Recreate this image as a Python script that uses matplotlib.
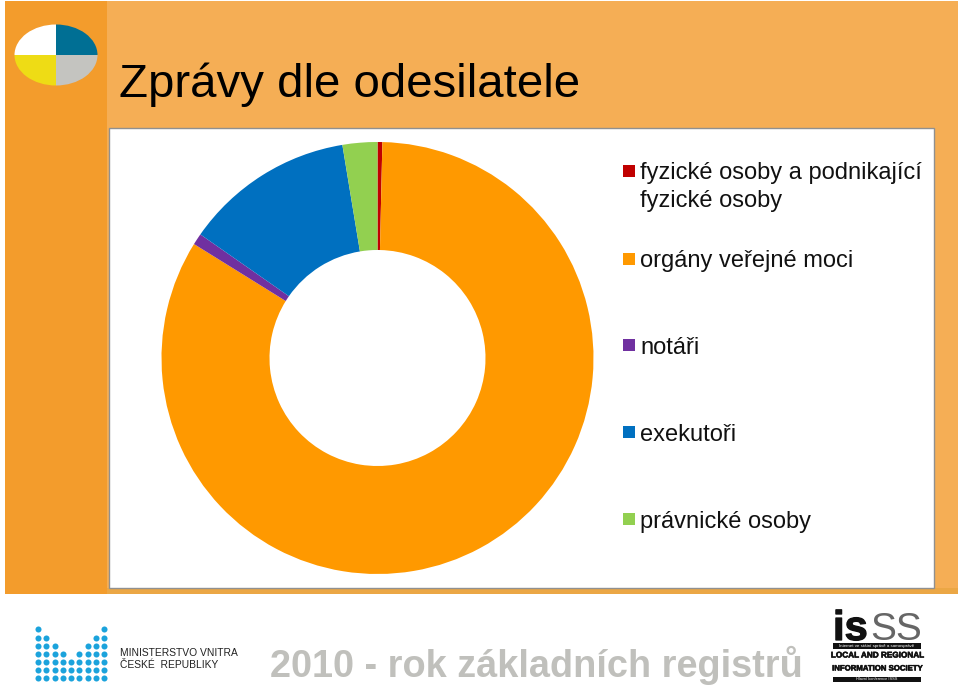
import matplotlib
matplotlib.use("Agg")
import matplotlib.pyplot as plt
import matplotlib.patheffects as pe
from matplotlib.patches import Rectangle, Ellipse

plt.rcParams['font.family'] = ['Liberation Sans', 'DejaVu Sans']

labels = ["fyzické osoby a podnikající\nfyzické osoby", "orgány veřejné moci", "notáři",
          "exekutoři", "právnické osoby"]
shares = [0.36, 83.45, 0.85, 12.7, 2.6]
colors = ["#c00000", "#ff9900", "#7030a0", "#0070c0", "#92d050"]
marker_y = [171, 259, 345, 432, 519]
text_y = [207, 267, 354, 441, 528]

title = "Zprávy dle odesilatele"
footer = "2010 - rok základních registrů"
# dots per column in the ministry logo
dot_counts = [7, 6, 5, 4, 3, 4, 5, 6, 7]

fig = plt.figure(figsize=(9.6, 6.86), dpi=100, facecolor="white")

# whole figure axes in pixel coordinates for the slide background
bg = fig.add_axes([0, 0, 1, 1])
bg.set_xlim(0, 960)
bg.set_ylim(686, 0)
bg.axis("off")

bg.add_patch(Rectangle((5, 1), 102, 593, color="#f39c2c", lw=0))
bg.add_patch(Rectangle((107, 1), 851, 593, color="#f5ae55", lw=0))
bg.add_patch(Rectangle((107, 588), 851, 6, color="#eba745", lw=0))
bg.add_patch(Rectangle((109, 128), 825, 460, facecolor="white", edgecolor="#909090", lw=1.0))

# quartered ellipse at top left
clip = Ellipse((56, 55), 83, 61, transform=bg.transData)
for x, y, c in [(14, 24, "white"), (56, 24, "#006f94"), (14, 55, "#eedc15"), (56, 55, "#c4c4c0")]:
    r = bg.add_patch(Rectangle((x, y), 42, 31, color=c, lw=0))
    r.set_clip_path(clip)

bg.text(119, 97, title, fontsize=34.1, color="black", ha="left", va="baseline")

# legend
for lab, c, my, ty in zip(labels, colors, marker_y, text_y):
    bg.add_patch(Rectangle((622.5, my - 6), 12.5, 12, color=c, lw=0))
    bg.text(640, ty, lab, fontsize=17, color="#111111", ha="left", va="baseline", linespacing=1.36)

# ministry logo
for i, n in enumerate(dot_counts):
    xs = [38 + i * 8.25] * n
    ys = [678 - j * 8.1 for j in range(n)]
    bg.scatter(xs, ys, s=19, color="#1ba3dc", lw=0)
bg.text(120, 656, "MINISTERSTVO VNITRA", fontsize=7.4, color="#222222", va="baseline")
bg.text(120, 668, "ČESKÉ  REPUBLIKY", fontsize=7.4, color="#222222", va="baseline")

bg.text(270, 677, footer, fontsize=27.3, fontweight="bold", color="#c0c0bc", va="baseline")

# isss logo
heavy = [pe.withStroke(linewidth=0.9, foreground="#111111")]
bg.text(833, 640, "is", fontsize=30, fontweight="bold", color="#111111", va="baseline", path_effects=heavy)
bg.text(870, 640, "SS", fontsize=28, color="#666666", va="baseline")
bg.add_patch(Rectangle((833, 643), 88, 6, color="#111111", lw=0))
bg.text(877, 646, "Internet ve státní správě a samosprávě", fontsize=3.2, color="white", ha="center", va="center")
bg.text(877, 656, "LOCAL AND REGIONAL", fontsize=5.9, fontweight="bold", color="#111111", ha="center", va="center",
        path_effects=[pe.withStroke(linewidth=0.4, foreground="#111111")])
bg.text(877, 669, "INFORMATION SOCIETY", fontsize=5.6, fontweight="bold", color="#111111", ha="center", va="center",
        path_effects=[pe.withStroke(linewidth=0.4, foreground="#111111")])
bg.add_patch(Rectangle((833, 677), 88, 5, color="#111111", lw=0))
bg.text(877, 679.5, "Hlavní konference ISSS", fontsize=2.8, color="white", ha="center", va="center")

# doughnut, centred at (377.5, 358) with radius 216 px
ax = fig.add_axes([(377.5 - 216) / 960, 1 - (358 + 216) / 686, 432 / 960, 432 / 686])
ax.pie(shares, colors=colors, startangle=90, counterclock=False, radius=1.0,
       wedgeprops=dict(width=0.5, linewidth=0))
ax.set_xlim(-1, 1)
ax.set_ylim(-1, 1)
ax.set_aspect("equal")

fig.savefig("out.png", dpi=100)
